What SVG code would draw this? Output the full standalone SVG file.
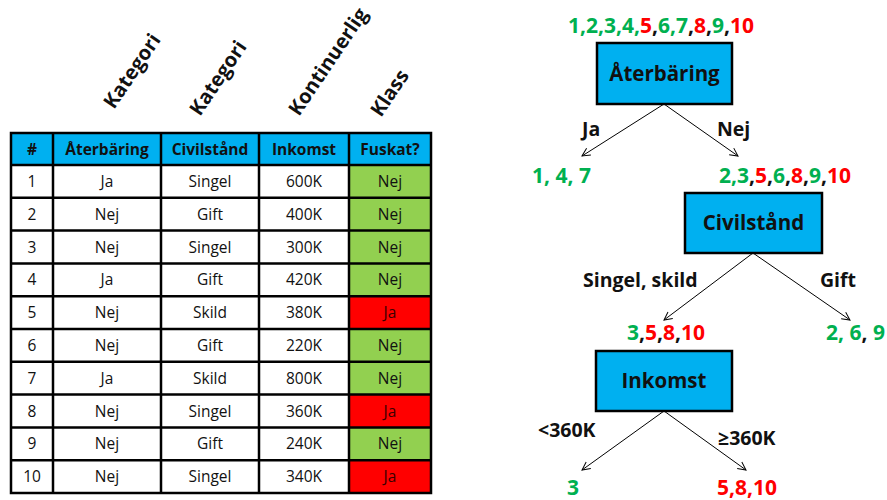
<svg xmlns="http://www.w3.org/2000/svg" width="887" height="500" viewBox="0 0 887 500">
  <defs>
    <marker id="arrow" viewBox="0 0 10 10" refX="9" refY="5" markerWidth="10" markerHeight="10" markerUnits="userSpaceOnUse" orient="auto">
      <path d="M1,1 L9,5 L1,9" fill="none" stroke="#000" stroke-width="1"/>
    </marker>
  </defs>
  <style>
    text { font-family: "Open Sans", "Noto Sans", sans-serif; }
    .cell { font-size: 15.5px; text-anchor: middle; fill: #111; }
    .head { font-size: 15.5px; font-weight: bold; text-anchor: middle; fill: #111; }
    .rot { font-size: 20px; font-weight: bold; fill: #111; }
    .grid { stroke: #000; stroke-width: 2.5; fill: none; }
    .hdr { fill: #00B0F0; }
    .ok { fill: #92D050; }
    .bad { fill: #FF0000; }
    .node rect { fill: #00B0F0; stroke: #000; stroke-width: 2.5; }
    .node text { font-size: 20.5px; font-weight: bold; text-anchor: middle; fill: #111; }
    .lbl { font-size: 19.5px; font-weight: bold; fill: #111; }
    .set { font-size: 21px; font-weight: bold; fill: #111; }
    .g { fill: #00B050; }
    .r { fill: #FF0000; }
    .edge { stroke: #000; stroke-width: 1; fill: none; marker-end: url(#arrow); }
  </style>

  <!-- column type labels -->
  <g id="type-labels">
    <text class="rot" transform="translate(114,110) rotate(-56)">Kategori</text>
    <text class="rot" transform="translate(200,117) rotate(-56)">Kategori</text>
    <text class="rot" transform="translate(299,117) rotate(-56)">Kontinuerlig</text>
    <text class="rot" transform="translate(381,118) rotate(-56)">Klass</text>
  </g>

  <!-- data table -->
  <g id="table">
    <rect class="hdr" x="11" y="133" width="420" height="32"/>
    <rect class="ok" x="349" y="165" width="82" height="131.2"/>
    <rect class="bad" x="349" y="296.2" width="82" height="32.8"/>
    <rect class="ok" x="349" y="329" width="82" height="65.6"/>
    <rect class="bad" x="349" y="394.6" width="82" height="32.8"/>
    <rect class="ok" x="349" y="427.4" width="82" height="32.8"/>
    <rect class="bad" x="349" y="460.2" width="82" height="32.8"/>

    <g class="grid">
      <rect x="11" y="133" width="420" height="360"/>
      <path d="M53,133V493 M161,133V493 M259,133V493 M349,133V493"/>
      <path d="M11,165H431 M11,197.8H431 M11,230.6H431 M11,263.4H431 M11,296.2H431 M11,329H431 M11,361.8H431 M11,394.6H431 M11,427.4H431 M11,460.2H431"/>
    </g>

    <g>
      <text class="head" x="32" y="154.5">#</text>
      <text class="head" x="107" y="154.5">Återbäring</text>
      <text class="head" x="210" y="154.5">Civilstånd</text>
      <text class="head" x="304" y="154.5">Inkomst</text>
      <text class="head" x="390" y="154.5">Fuskat?</text>
    </g>

    <g class="cell">
      <text x="32" y="187">1</text><text x="107" y="187">Ja</text><text x="210" y="187">Singel</text><text x="304" y="187">600K</text><text x="390" y="187">Nej</text>
      <text x="32" y="219.8">2</text><text x="107" y="219.8">Nej</text><text x="210" y="219.8">Gift</text><text x="304" y="219.8">400K</text><text x="390" y="219.8">Nej</text>
      <text x="32" y="252.6">3</text><text x="107" y="252.6">Nej</text><text x="210" y="252.6">Singel</text><text x="304" y="252.6">300K</text><text x="390" y="252.6">Nej</text>
      <text x="32" y="285.4">4</text><text x="107" y="285.4">Ja</text><text x="210" y="285.4">Gift</text><text x="304" y="285.4">420K</text><text x="390" y="285.4">Nej</text>
      <text x="32" y="318.2">5</text><text x="107" y="318.2">Nej</text><text x="210" y="318.2">Skild</text><text x="304" y="318.2">380K</text><text x="390" y="318.2" fill="#3a0000">Ja</text>
      <text x="32" y="351">6</text><text x="107" y="351">Nej</text><text x="210" y="351">Gift</text><text x="304" y="351">220K</text><text x="390" y="351">Nej</text>
      <text x="32" y="383.8">7</text><text x="107" y="383.8">Ja</text><text x="210" y="383.8">Skild</text><text x="304" y="383.8">800K</text><text x="390" y="383.8">Nej</text>
      <text x="32" y="416.6">8</text><text x="107" y="416.6">Nej</text><text x="210" y="416.6">Singel</text><text x="304" y="416.6">360K</text><text x="390" y="416.6" fill="#3a0000">Ja</text>
      <text x="32" y="449.4">9</text><text x="107" y="449.4">Nej</text><text x="210" y="449.4">Gift</text><text x="304" y="449.4">240K</text><text x="390" y="449.4">Nej</text>
      <text x="32" y="482.2">10</text><text x="107" y="482.2">Nej</text><text x="210" y="482.2">Singel</text><text x="304" y="482.2">340K</text><text x="390" y="482.2" fill="#3a0000">Ja</text>
    </g>
  </g>

  <!-- tree connectors -->
  <g id="connectors">
    <line class="edge" x1="664" y1="104" x2="582" y2="156"/>
    <line class="edge" x1="664" y1="104" x2="738" y2="156"/>
    <line class="edge" x1="753" y1="253" x2="664" y2="320"/>
    <line class="edge" x1="753" y1="253" x2="850" y2="320"/>
    <line class="edge" x1="664" y1="411" x2="582" y2="470"/>
    <line class="edge" x1="664" y1="411" x2="746" y2="470"/>
  </g>

  <!-- decision nodes -->
  <g id="node-aterbaring" class="node">
    <rect x="597" y="43" width="135" height="61"/>
    <text x="664.5" y="81">Återbäring</text>
  </g>
  <g id="node-civilstand" class="node">
    <rect x="685" y="193" width="137" height="60"/>
    <text x="753.5" y="230">Civilstånd</text>
  </g>
  <g id="node-inkomst" class="node">
    <rect x="596" y="351" width="136" height="60"/>
    <text x="664" y="388">Inkomst</text>
  </g>

  <!-- record sets at each node -->
  <g id="set-root"><text class="set" x="568" y="33"><tspan class="g">1,2,3,4,</tspan><tspan class="r">5</tspan>,<tspan class="g">6,7</tspan>,<tspan class="r">8</tspan>,<tspan class="g">9</tspan>,<tspan class="r">10</tspan></text></g>
  <g id="set-ja"><text class="set" x="532" y="183"><tspan class="g">1, 4, 7</tspan></text></g>
  <g id="set-nej"><text class="set" x="719" y="183"><tspan class="g">2,3</tspan>,<tspan class="r">5</tspan>,<tspan class="g">6</tspan>,<tspan class="r">8</tspan>,<tspan class="g">9</tspan>,<tspan class="r">10</tspan></text></g>
  <g id="set-singel"><text class="set" x="627" y="340"><tspan class="g">3</tspan>,<tspan class="r">5</tspan>,<tspan class="r">8</tspan>,<tspan class="r">10</tspan></text></g>
  <g id="set-gift"><text class="set" x="826" y="340"><tspan class="g">2, 6</tspan>, <tspan class="g">9</tspan></text></g>
  <g id="set-low"><text class="set" x="567" y="495"><tspan class="g">3</tspan></text></g>
  <g id="set-high"><text class="set" x="717" y="495"><tspan class="r">5,8,10</tspan></text></g>

  <!-- branch labels -->
  <g id="branch-labels">
    <text class="lbl" x="582" y="136">Ja</text>
    <text class="lbl" x="717" y="136">Nej</text>
    <text class="lbl" x="583" y="287">Singel, skild</text>
    <text class="lbl" x="820" y="287">Gift</text>
    <text class="lbl" x="538" y="437">&lt;360K</text>
    <text class="lbl" x="718" y="445">≥360K</text>
  </g>
</svg>
